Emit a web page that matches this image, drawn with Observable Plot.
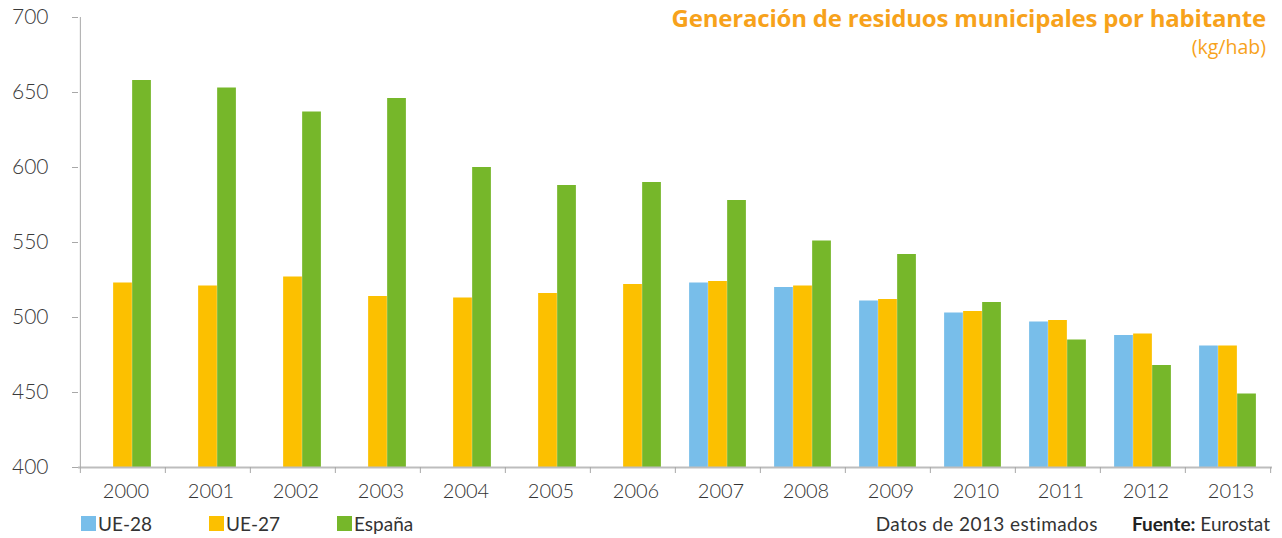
<!DOCTYPE html>
<html>
<head>
<meta charset="utf-8">
<script src="https://cdn.jsdelivr.net/npm/d3@7"></script>
<script src="https://cdn.jsdelivr.net/npm/@observablehq/plot@0.6"></script>
<style>
  body { margin: 0; background: #fff; font-family: Lato, "Open Sans", sans-serif; }
  #wrap { position: relative; width: 1282px; height: 538px; overflow: hidden; }
  #chart { position: absolute; left: 0; top: 0; }
  .title { position: absolute; right: 16px; top: 1px; color: #F7A21B; font-family: "Open Sans", sans-serif; font-weight: 700; font-size: 24px; letter-spacing: -0.2px; white-space: nowrap; }
  .sub { position: absolute; right: 16px; top: 33px; color: #F7A21B; font-family: "Open Sans", sans-serif; font-size: 19.5px; white-space: nowrap; }
  .legend { position: absolute; top: 512px; left: 81px; font-size: 19px; color: #333; white-space: nowrap; }
  .legend span.item { position: absolute; top: 0; display: inline-flex; align-items: center; }
  .legend i { display: inline-block; width: 15px; height: 15px; margin-right: 2px; }
  .foot { position: absolute; top: 512px; right: 12px; font-size: 19px; color: #333; white-space: nowrap; }
  .foot b { font-weight: 700; color: #222; }
</style>
</head>
<body>
<div id="wrap">
  <div id="chart"></div>
  <div class="title">Generación de residuos municipales por habitante</div>
  <div class="sub">(kg/hab)</div>
  <div class="legend" id="legend"></div>
  <div class="foot"><span style="letter-spacing:0.4px">Datos de 2013 estimados</span><span style="display:inline-block;width:34px"></span><b>Fuente:</b> Eurostat</div>
</div>
<script>
const years = ["2000","2001","2002","2003","2004","2005","2006","2007","2008","2009","2010","2011","2012","2013"];
const seriesNames = ["UE-28", "UE-27", "España"];
const ue28 = [null, null, null, null, null, null, null, 523, 520, 511, 503, 497, 488, 481];
const ue27 = [523, 521, 527, 514, 513, 516, 522, 524, 521, 512, 504, 498, 489, 481];
const espana = [658, 653, 637, 646, 600, 588, 590, 578, 551, 542, 510, 485, 468, 449];
const yTicks = [400, 450, 500, 550, 600, 650, 700];
const colors = ["#78BEEA", "#FCC000", "#76B72A"];

const W = 1282, H = 538;
const ml = 78, mr = 10, mt = 17, mb = 71;
const bw = (W - ml - mr) / years.length;
const barW = bw * 0.223;
const groupPad = (bw - 3 * barW) / 2;

const seriesValues = [ue28, ue27, espana];
const barMarks = seriesValues.map((vals, i) => {
  const data = years.map((y, j) => ({year: y, value: vals[j]})).filter(d => d.value != null);
  const insetLeft = groupPad + i * barW;
  return Plot.barY(data, {
    x: "year", y1: 400, y2: "value",
    fill: colors[i],
    insetLeft, insetRight: bw - insetLeft - barW
  });
});

const chart = Plot.plot({
  width: W, height: H,
  marginLeft: ml, marginRight: mr, marginTop: mt, marginBottom: mb,
  style: {fontFamily: "Lato, 'Open Sans', sans-serif", color: "#333", background: "transparent"},
  x: {type: "band", domain: years, padding: 0, axis: null},
  y: {domain: [400, 700], axis: null},
  marks: [
    ...barMarks,
    Plot.ruleY([400], {stroke: "#BDBDBD", strokeWidth: 2}),
    Plot.ruleX([years[0]], {x: d => d, y1: 400, y2: 700, dx: -bw / 2, stroke: "#A8A8A8"}),
    Plot.ruleX(years, {x: d => d, y1: 400, y2: 396, dx: -bw / 2, stroke: "#A8A8A8"}),
    Plot.ruleX([years[years.length - 1]], {x: d => d, y1: 400, y2: 396, dx: bw / 2, stroke: "#A8A8A8"}),
    Plot.axisY({ticks: yTicks, label: null, tickSize: 6, tickPadding: 24, fontSize: 21, fill: "#3a3a3a", stroke: "#A8A8A8", fontWeight: 300}),
    Plot.axisX({label: null, tickSize: 0, tickPadding: 16, fontSize: 20, fill: "#333", dx: 3, fontWeight: 300})
  ]
});
document.getElementById("chart").appendChild(chart);

const legend = document.getElementById("legend");
const legendX = [0, 128, 256];
seriesNames.forEach((name, i) => {
  const s = document.createElement("span");
  s.className = "item";
  s.style.left = legendX[i] + "px";
  s.innerHTML = `<i style="background:${colors[i]}"></i>${name}`;
  legend.appendChild(s);
});
</script>
</body>
</html>
